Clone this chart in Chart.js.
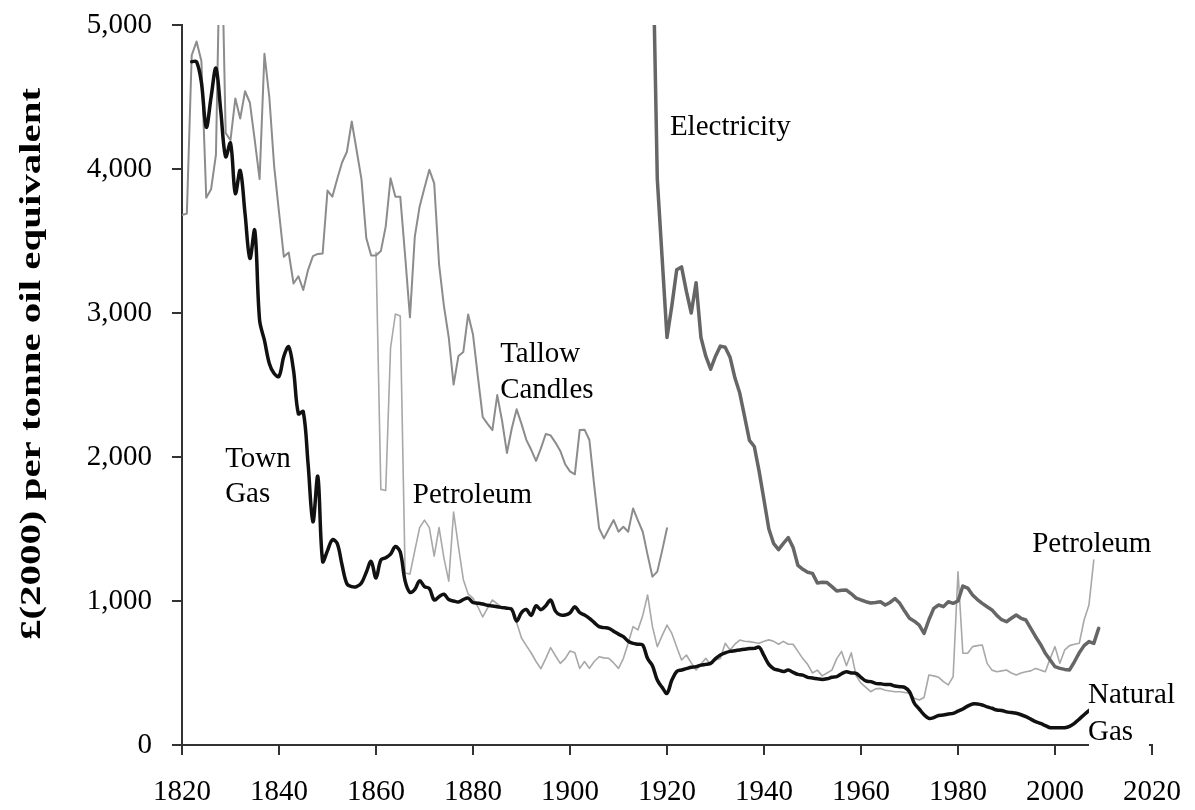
<!DOCTYPE html>
<html>
<head>
<meta charset="utf-8">
<script src="https://cdn.jsdelivr.net/npm/chart.js"></script>
<style>
html,body{margin:0;padding:0;background:#fff;}
#wrap{width:1195px;height:810px;position:relative;}
</style>
</head>
<body>
<div id="wrap"><canvas id="c"></canvas></div>
<script>
// ---------- DATA ----------
const yTitle = '£(2000) per tonne oil equivalent';
const xTickStep = 20;
const yTickStep = 1000;

// Gas (Town Gas, later Natural Gas): yearly values from 1822
const gasStart = 1822;
const gasValues = [
  4745, 4745, 4600, 4290, 4500, 4700, 4400, 4085,
  4180, 3830, 3990, 3690, 3380, 3575, 2950, 2810, 2650, 2580,
  2560, 2700, 2765, 2600, 2300, 2315, 1950, 1550, 1865, 1275,
  1350, 1425, 1400, 1250, 1120, 1100, 1100, 1125, 1200, 1275,
  1160, 1285, 1300, 1325, 1378, 1340, 1140, 1060, 1080, 1140,
  1100, 1087, 1007, 1030, 1047, 1010, 1000, 993, 1010, 1020,
  990, 985, 979, 970, 965, 960, 954, 950, 941, 861,
  920, 941, 900, 967, 940, 967, 1007, 930, 903, 903,
  917, 960, 920, 903, 880, 850, 822, 815, 810, 790,
  770, 752, 720, 706, 700, 694, 600, 550, 451, 400,
  359, 451, 510, 521, 530, 540, 544, 555, 560, 567,
  600, 625, 640, 650, 655, 660, 665, 670, 671, 680,
  620, 560, 530, 520, 510, 520, 505, 490, 485, 470,
  465, 460, 455, 460, 470, 475, 495, 509, 500, 498,
  470, 445, 440, 428, 425, 420, 420, 410, 405, 400,
  370, 290, 250, 210, 185, 190, 205, 208, 215, 220,
  235, 250, 270, 285, 285, 278, 265, 255, 243, 240,
  230, 225, 220, 210, 197, 180, 162, 150, 135, 120,
  120, 120, 120, 130, 150, 180, 210, 240
];

// Tallow candles: yearly values from 1820
const candleStart = 1820;
const candleValues = [
  3680, 3690, 4790, 4885, 4750, 3800, 3860, 4100, 5900, 4250,
  4200, 4490, 4350, 4540, 4460, 4200, 3930, 4800, 4500, 4020,
  3700, 3390, 3420, 3205, 3255, 3160, 3300, 3395, 3410, 3414,
  3850, 3808, 3930, 4045, 4120, 4330, 4130, 3930, 3520, 3400,
  3400, 3430, 3600, 3935, 3808, 3808, 3400, 2970, 3530, 3740,
  3870, 3995, 3900, 3340, 3050, 2830, 2503, 2702, 2729, 2990,
  2850, 2560, 2278, 2230, 2187, 2430, 2250, 2028, 2200, 2331,
  2230, 2119, 2050, 1973, 2060, 2160, 2150, 2100, 2042, 1950,
  1900, 1880, 2187, 2190, 2118, 1800, 1505, 1435, 1500, 1562,
  1481, 1516, 1481, 1643, 1560, 1481, 1320, 1169, 1204, 1350,
  1505
];

// Petroleum: yearly values from 1860
const petroleumStart = 1860;
const petroleumValues = [
  3420, 1775, 1767, 2757, 2993, 2980, 1194, 1187, 1350, 1510,
  1562, 1510, 1312, 1510, 1300, 1138, 1618, 1378, 1150, 1048,
  1020, 960, 889, 950, 1007, 980, 954, 950, 954, 850,
  743, 690, 639, 580, 530, 600, 676, 620, 567, 600,
  653, 640, 532, 580, 532, 580, 613, 605, 602, 570,
  532, 600, 706, 822, 799, 900, 1042, 822, 683, 760,
  833, 775, 680, 590, 625, 570, 521, 560, 602, 556,
  590, 600, 706, 660, 700, 729, 720, 718, 712, 706,
  720, 730, 720, 700, 720, 700, 700, 650, 600, 560,
  500, 520, 480, 500, 520, 600, 650, 550, 640, 480,
  430, 400, 370, 390, 393, 380, 375, 370, 370, 365,
  359, 324, 312, 330, 486, 480, 470, 440, 417, 475,
  1203, 637, 637, 683, 690, 694, 567, 520, 509, 515,
  521, 500, 486, 500, 509, 515, 532, 520, 509, 600,
  683, 567, 660, 690, 700, 706, 868, 972, 1285
];

// Electricity: yearly values from 1917
const electricityStart = 1917;
const electricityValues = [
  5700, 3930, 3380,
  2830, 3050, 3300, 3320, 3150, 3000, 3210, 2830, 2700, 2610,
  2700, 2770, 2762, 2693, 2550, 2444, 2280, 2115, 2073, 1900,
  1701, 1500, 1398, 1357, 1400, 1440, 1371, 1247, 1220, 1200,
  1192, 1125, 1130, 1128, 1100, 1069, 1075, 1076, 1050, 1020,
  1007, 995, 986, 990, 995, 972, 990, 1017, 984, 930,
  880, 860, 833, 775, 870, 949, 972, 961, 995, 984,
  1000, 1104, 1090, 1042, 1010, 984, 960, 938, 900, 870,
  856, 880, 903, 880, 868, 810, 752, 700, 637, 590,
  544, 532, 525, 521, 578, 640, 690, 718, 706, 810
];

// Text labels placed in data units (year, value of baseline)
const labelTexts = [
  ['Electricity'],
  ['Tallow', 'Candles'],
  ['Town', 'Gas'],
  ['Petroleum'],
  ['Petroleum'],
  ['Natural', 'Gas']
];
const labelYears = [1920.6, 1885.6, 1828.9, 1867.6, 1995.3, 2006.8];
const labelBaselines = [[4236], [2660, 2410], [1931, 1688], [1681], [1340], [292, 35]];

// ---------- CHART ----------
function toPoints(start, vals) { return vals.map((v, i) => ({ x: start + i, y: v })); }

const serif = "'Liberation Serif', 'Times New Roman', serif";

const textPlugin = {
  id: 'texts',
  afterDraw(chart) {
    const ctx = chart.ctx, xs = chart.scales.x, ys = chart.scales.y, ca = chart.chartArea;
    ctx.save();
    // white box behind "Natural Gas" (covers the axis line there, as in the original)
    const ngx = xs.getPixelForValue(labelYears[5]);
    const ngTop = ys.getPixelForValue(labelBaselines[5][0]) - 26;
    ctx.fillStyle = '#fff';
    ctx.fillRect(ngx + 1, ngTop, ca.right - 3 - (ngx + 1), ca.bottom + 4 - ngTop);
    ctx.fillStyle = '#000';
    ctx.font = '29px ' + serif;
    ctx.textAlign = 'left';
    ctx.textBaseline = 'alphabetic';
    labelTexts.forEach((lines, k) => {
      lines.forEach((t, i) => {
        ctx.fillText(t, xs.getPixelForValue(labelYears[k]), ys.getPixelForValue(labelBaselines[k][i]));
      });
    });
    // rotated y-axis title
    ctx.save();
    ctx.translate(ca.left - 142, 364);
    ctx.rotate(-Math.PI / 2);
    ctx.font = 'bold 30px ' + serif;
    const w = ctx.measureText(yTitle).width;
    ctx.scale(552 / w, 1);
    ctx.textAlign = 'center';
    ctx.fillText(yTitle, 0, 0);
    ctx.restore();
    ctx.restore();
  }
};

const axisGrid = { drawOnChartArea: false, drawTicks: true, tickLength: 10, color: '#333', lineWidth: 2 };
const axisBorder = { display: true, color: '#333', width: 2 };

new Chart(document.getElementById('c'), {
  type: 'line',
  data: {
    datasets: [
      { label: 'Gas', data: toPoints(gasStart, gasValues), borderColor: '#111', borderWidth: 3.5, tension: 0.35 },
      { label: 'Electricity', data: toPoints(electricityStart, electricityValues), borderColor: '#666', borderWidth: 3.5, tension: 0 },
      { label: 'Tallow Candles', data: toPoints(candleStart, candleValues), borderColor: '#8c8c8c', borderWidth: 2, tension: 0 },
      { label: 'Petroleum', data: toPoints(petroleumStart, petroleumValues), borderColor: '#a8a8a8', borderWidth: 1.6, tension: 0 }
    ]
  },
  options: {
    responsive: true,
    maintainAspectRatio: false,
    animation: false,
    devicePixelRatio: 1,
    elements: { point: { radius: 0, hoverRadius: 0 }, line: { fill: false, borderCapStyle: 'round', borderJoinStyle: 'round' } },
    layout: { padding: { left: 0, right: 43, top: 25, bottom: 0 } },
    plugins: { legend: { display: false }, tooltip: { enabled: false }, title: { display: false } },
    scales: {
      x: {
        type: 'linear', min: 1820, max: 2020,
        ticks: { stepSize: xTickStep, callback: v => String(v), font: { family: serif, size: 29 }, color: '#000', padding: 20, maxRotation: 0, autoSkip: false },
        grid: axisGrid, border: axisBorder,
        afterFit(s) { s.height = 65; s.paddingLeft = 0; s.paddingRight = 0; }
      },
      y: {
        type: 'linear', min: 0, max: 5000,
        ticks: { stepSize: yTickStep, callback: v => v.toLocaleString('en-US'), font: { family: serif, size: 29 }, color: '#000', padding: 20 },
        grid: axisGrid, border: axisBorder,
        afterFit(s) { s.width = 182; s.paddingTop = 0; s.paddingBottom = 0; }
      }
    }
  },
  plugins: [textPlugin]
});
</script>
</body>
</html>
